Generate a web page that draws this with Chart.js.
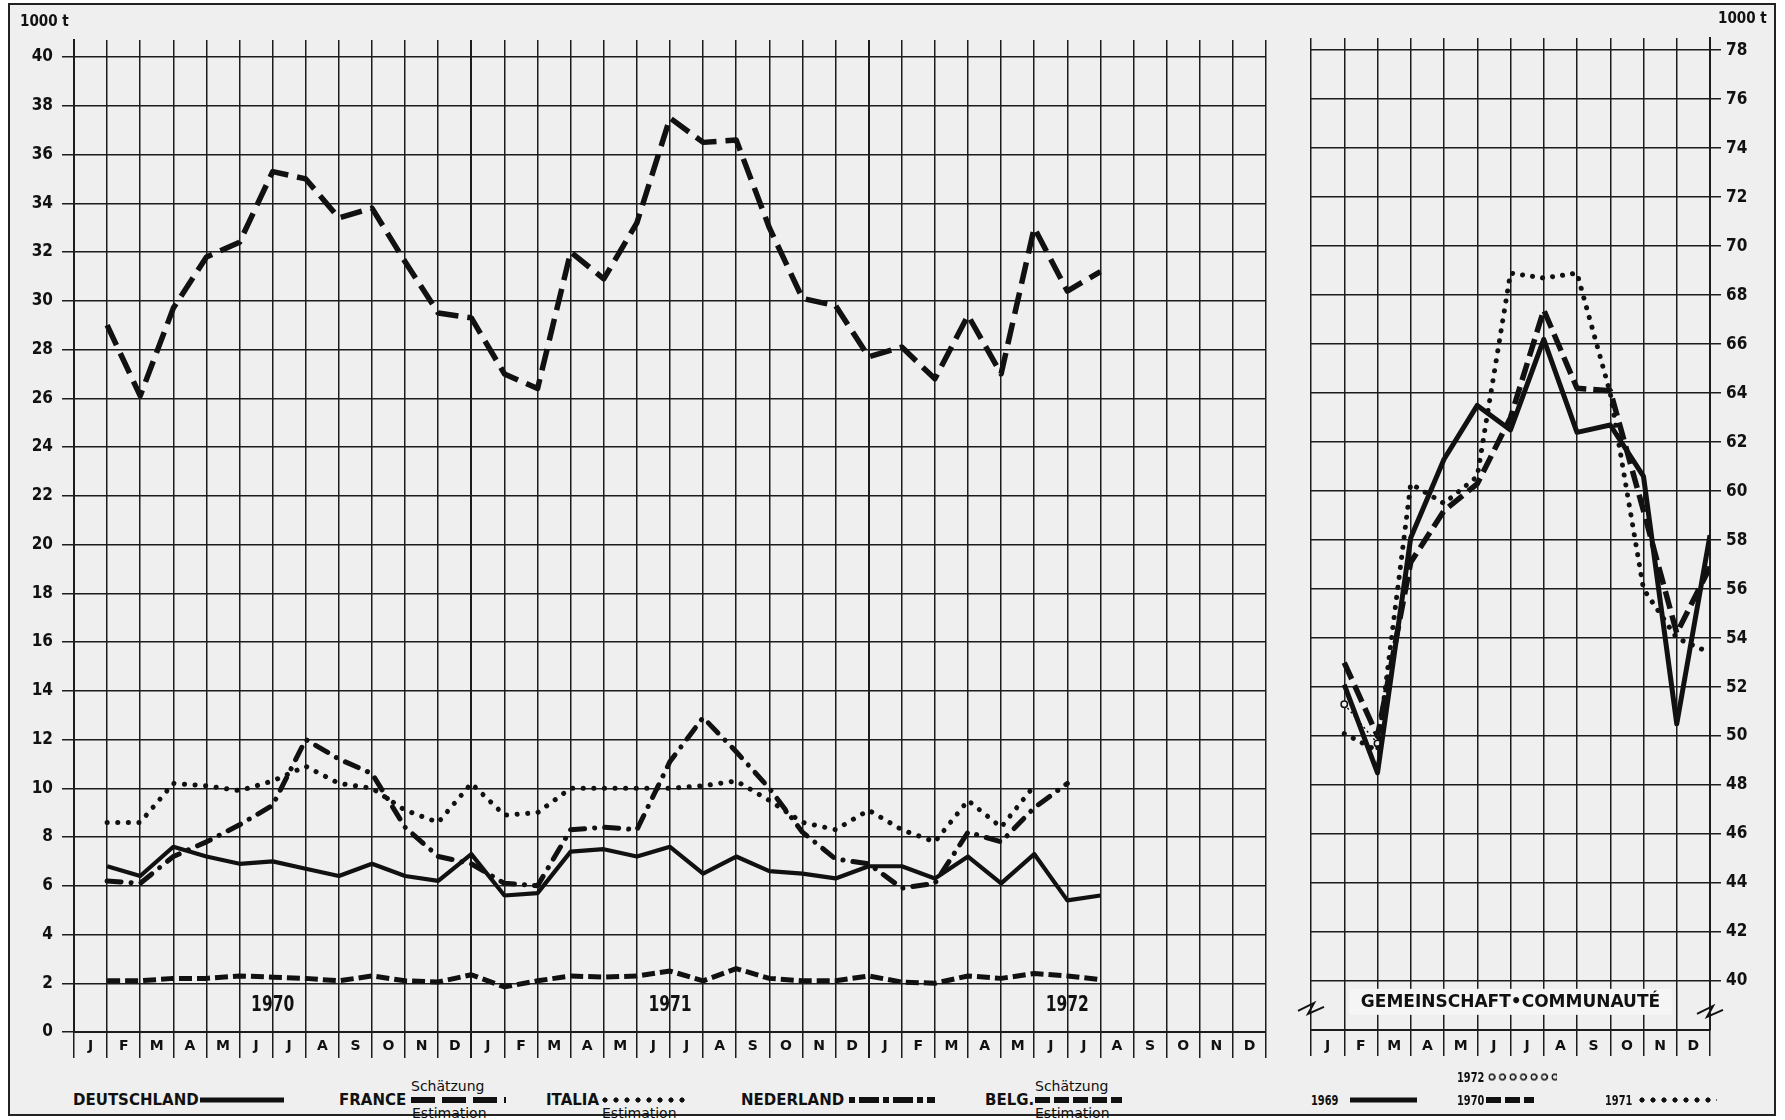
<!DOCTYPE html>
<html lang="de">
<head>
<meta charset="utf-8">
<title>Gemeinschaft · Communauté</title>
<script src="https://cdn.jsdelivr.net/npm/chart.js@4.4.1/dist/chart.umd.min.js"></script>
<style>
  html, body { margin: 0; padding: 0; background: #fff; }
  #page { position: relative; width: 1785px; height: 1120px; overflow: hidden; color: #111; }
  #frame { position: absolute; left: 8px; top: 3px; width: 1764px; height: 1109px;
           border: 2px solid #222; background: #efefef; }
  #left-chart { position: absolute; left: 0; top: 0; }
  #right-chart { position: absolute; left: 1270px; top: 0; }
  .unit { position: absolute; font: bold 15px "DejaVu Sans Condensed", sans-serif;
          line-height: 1; transform: translateY(-50%); white-space: nowrap; }
  .lg { position: absolute; font: bold 15px "DejaVu Sans", sans-serif; line-height: 1;
        white-space: nowrap; transform: translateY(-50%); }
  .lg.note { font: 14px "DejaVu Sans", sans-serif; }
  .lg.yr { font: bold 14px "DejaVu Sans Condensed", sans-serif;
           transform: translateY(-50%) scaleX(0.78); transform-origin: 0 50%; }
  .smp { position: absolute; height: 6px; transform: translateY(-50%); }
  .solid { background: #111; height: 5px; }
  .dash { background: repeating-linear-gradient(90deg, #111 0 24px, transparent 24px 31px); }
  .dash-short { background: repeating-linear-gradient(90deg, #111 0 15px, transparent 15px 19px); }
  .dots { height: 8px; background: radial-gradient(circle at 5px 50%, #111 2.3px, transparent 2.9px) 0 0 / 11px 100% repeat-x; }
  .dashdot { background: repeating-linear-gradient(90deg, #111 0 6px, transparent 6px 10px, #111 10px 30px, transparent 30px 34px); }
  .rings { height: 9px; background: radial-gradient(circle at 5px 50%, transparent 1.8px, #111 2.3px, #111 3.3px, transparent 3.8px) 0 0 / 10.5px 100% repeat-x; }
</style>
</head>
<body>
<div id="page">
  <div id="frame"></div>
  <canvas id="left-chart" width="1290" height="1075"></canvas>
  <canvas id="right-chart" width="515" height="1075"></canvas>

  <div class="unit" style="left:20px; top:21px;">1000 t</div>
  <div class="unit" style="left:1718px; top:18px;">1000 t</div>

  <!-- Legende links -->
  <div class="lg" style="left:73px; top:1100px;">DEUTSCHLAND</div>
  <div class="smp solid" style="left:200px; top:1100px; width:84px;"></div>

  <div class="lg" style="left:339px; top:1100px;">FRANCE</div>
  <div class="lg note" style="left:411px; top:1086px;">Schätzung</div>
  <div class="smp dash" style="left:411px; top:1100px; width:95px;"></div>
  <div class="lg note" style="left:412px; top:1113px;">Estimation</div>

  <div class="lg" style="left:546px; top:1100px;">ITALIA</div>
  <div class="smp dots" style="left:600px; top:1100px; width:88px;"></div>
  <div class="lg note" style="left:602px; top:1113px;">Estimation</div>

  <div class="lg" style="left:741px; top:1100px;">NEDERLAND</div>
  <div class="smp dashdot" style="left:849px; top:1100px; width:86px;"></div>

  <div class="lg" style="left:985px; top:1100px;">BELG.</div>
  <div class="lg note" style="left:1035px; top:1086px;">Schätzung</div>
  <div class="smp dash-short" style="left:1035px; top:1100px; width:87px;"></div>
  <div class="lg note" style="left:1035px; top:1113px;">Estimation</div>

  <!-- Legende rechts -->
  <div class="lg yr" style="left:1311px; top:1100px;">1969</div>
  <div class="smp solid" style="left:1350px; top:1100px; width:67px;"></div>
  <div class="lg yr" style="left:1457px; top:1077px;">1972</div>
  <div class="smp rings" style="left:1487px; top:1077px; width:70px;"></div>
  <div class="lg yr" style="left:1457px; top:1100px;">1970</div>
  <div class="smp dash-short" style="left:1486px; top:1100px; width:48px;"></div>
  <div class="lg yr" style="left:1605px; top:1100px;">1971</div>
  <div class="smp dots" style="left:1637px; top:1100px; width:80px;"></div>
</div>

<script>
// Monatsbuchstaben, Jahre, Achsenteilung
const monthLetters = ['J', 'F', 'M', 'A', 'M', 'J', 'J', 'A', 'S', 'O', 'N', 'D'];
const yearLabels = ['1970', '1971', '1972'];
const leftYTicks = [0, 2, 4, 6, 8, 10, 12, 14, 16, 18, 20, 22, 24, 26, 28, 30, 32, 34, 36, 38, 40];
const rightYTicks = [40, 42, 44, 46, 48, 50, 52, 54, 56, 58, 60, 62, 64, 66, 68, 70, 72, 74, 76, 78];
const communityLabel = 'GEMEINSCHAFT•COMMUNAUTÉ';

// Monatswerte ab Januar 1970 (1000 t)
const deutschland = [6.8, 6.4, 7.6, 7.2, 6.9, 7.0, 6.7, 6.4, 6.9, 6.4, 6.2, 7.3,
                     5.6, 5.7, 7.4, 7.5, 7.2, 7.6, 6.5, 7.2, 6.6, 6.5, 6.3, 6.8,
                     6.8, 6.3, 7.2, 6.1, 7.3, 5.4, 5.6];
const france = [29.0, 26.1, 29.7, 31.8, 32.4, 35.3, 35.0, 33.4, 33.8, 31.6, 29.5, 29.3,
                27.0, 26.4, 32.0, 30.9, 33.2, 37.5, 36.5, 36.6, 33.0, 30.1, 29.8, 27.7,
                28.1, 26.8, 29.4, 27.0, 33.0, 30.4, 31.2];
const italia = [8.6, 8.6, 10.2, 10.1, 9.9, 10.3, 10.9, 10.2, 10.0, 9.1, 8.6, 10.2,
                8.9, 9.0, 10.0, 10.0, 10.0, 10.0, 10.1, 10.3, 9.5, 8.6, 8.3, 9.1,
                8.3, 7.8, 9.5, 8.4, 10.1];
const nederland = [6.2, 6.1, 7.2, 7.8, 8.5, 9.3, 12.0, 11.2, 10.6, 8.4, 7.2, 6.9,
                   6.1, 6.0, 8.3, 8.4, 8.3, 11.1, 12.9, 11.5, 10.0, 8.2, 7.1, 6.9,
                   5.9, 6.1, 8.2, 7.8, 9.2, 10.2];
const belgique = [2.1, 2.1, 2.2, 2.2, 2.3, 2.25, 2.2, 2.1, 2.3, 2.1, 2.05, 2.35,
                  1.85, 2.1, 2.3, 2.25, 2.3, 2.5, 2.1, 2.6, 2.2, 2.1, 2.1, 2.3,
                  2.05, 2.0, 2.3, 2.2, 2.4, 2.3, 2.15];

// Gemeinschaft, je Jahr Jan-Dez
const eg1969 = [52.1, 48.5, 58.1, 61.3, 63.5, 62.5, 66.2, 62.4, 62.7, 60.6, 50.5, 58.2];
const eg1970 = [53.0, 50.0, 57.1, 59.2, 60.3, 63.0, 67.4, 64.2, 64.1, 59.2, 54.2, 56.9];
const eg1971 = [50.1, 49.4, 60.3, 59.5, 60.6, 68.9, 68.7, 68.9, 64.0, 56.0, 54.0, 53.4];
const eg1972 = [51.3, 49.7];

const ink = '#111';
const gridInk = '#1c1c1c';
const narrow = '"DejaVu Sans Condensed", sans-serif';

// Werte gelten zum Monatsende -> Punkt auf der rechten Zellgrenze
function toPoints(values) {
  return values.map((v, i) => ({ x: i + 1, y: v }));
}

function lineSet(label, values, width, dash, cap) {
  return {
    label: label,
    data: toPoints(values),
    xAxisID: 'xd',
    borderColor: ink,
    borderWidth: width,
    borderDash: dash,
    borderCapStyle: cap || 'butt',
    borderJoinStyle: 'round',
    pointRadius: 0,
    tension: 0,
    fill: false
  };
}

function drawBreak(ctx, x, y) {
  ctx.beginPath();
  ctx.moveTo(x - 13, y + 3);
  ctx.lineTo(x + 3, y - 5);
  ctx.lineTo(x - 3, y + 6);
  ctx.lineTo(x + 13, y - 1);
  ctx.stroke();
}

// Jahreszahlen im linken Diagramm
const yearPlugin = {
  id: 'yearLabels',
  afterDraw(chart) {
    const { ctx, scales } = chart;
    ctx.save();
    ctx.fillStyle = ink;
    ctx.font = 'bold 21px ' + narrow;
    ctx.textAlign = 'center';
    ctx.textBaseline = 'middle';
    yearLabels.forEach((t, i) => {
      ctx.save();
      ctx.translate(scales.xd.getPixelForValue(i * 12 + 6), scales.y.getPixelForValue(1.1));
      ctx.scale(0.82, 1);
      ctx.fillText(t, 0, 0);
      ctx.restore();
    });
    ctx.restore();
  }
};

// Beschriftung und Bruchzeichen im rechten Diagramm
const communityPlugin = {
  id: 'communityLabel',
  afterDraw(chart) {
    const { ctx, scales, chartArea } = chart;
    const cx = scales.xd.getPixelForValue(6);
    const cy = scales.y.getPixelForValue(39.15);
    ctx.save();
    ctx.font = 'bold 17px "DejaVu Sans", sans-serif';
    const w = ctx.measureText(communityLabel).width;
    ctx.fillStyle = '#f5f5f5';
    ctx.fillRect(cx - w / 2 - 12, cy - 13, w + 24, 26);
    ctx.fillStyle = ink;
    ctx.textAlign = 'center';
    ctx.textBaseline = 'middle';
    ctx.fillText(communityLabel, cx, cy + 1);
    ctx.strokeStyle = ink;
    ctx.lineWidth = 2;
    const by = scales.y.getPixelForValue(38.9);
    drawBreak(ctx, chartArea.left, by);
    drawBreak(ctx, chartArea.right, by + 3);
    ctx.restore();
  }
};

function gridWidth(c) {
  return (c.index === 12 || c.index === 24) ? 2 : 1.5;
}

new Chart(document.getElementById('left-chart'), {
  type: 'line',
  data: {
    datasets: [
      lineSet('DEUTSCHLAND', deutschland, 4.2, []),
      lineSet('FRANCE', france, 5.5, [22, 9]),
      lineSet('ITALIA', italia, 5, [0.1, 10.5], 'round'),
      lineSet('NEDERLAND', nederland, 5, [14, 10, 0.1, 10], 'round'),
      lineSet('BELG.', belgique, 5, [13, 5])
    ]
  },
  options: {
    responsive: false,
    animation: false,
    layout: { padding: { top: 40, right: 24, left: 0, bottom: 0 } },
    plugins: { legend: { display: false }, tooltip: { enabled: false } },
    scales: {
      x: {
        type: 'category',
        labels: [...monthLetters, ...monthLetters, ...monthLetters],
        offset: true,
        grid: { offset: true, color: gridInk, lineWidth: gridWidth, tickLength: 26 },
        border: { display: true, color: gridInk, width: 2 },
        ticks: { color: ink, padding: -20, autoSkip: false, maxRotation: 0,
                 font: { family: '"DejaVu Sans", sans-serif', size: 14, weight: 'bold' } },
        afterFit: s => { s.height = 43; }
      },
      xd: { type: 'linear', display: false, min: 0, max: 36 },
      y: {
        type: 'linear',
        position: 'left',
        min: 0,
        max: 40.7,
        afterBuildTicks: s => { s.ticks = leftYTicks.map(v => ({ value: v })); },
        grid: { color: gridInk, lineWidth: 1.5, tickLength: 12 },
        border: { color: gridInk, width: 2 },
        ticks: { color: ink, padding: 9, font: { family: narrow, size: 17, weight: 'bold' } },
        afterFit: s => { s.width = 74; }
      }
    }
  },
  plugins: [yearPlugin]
});

const ring1972 = Object.assign(lineSet('1972', eg1972, 1.5, [2, 3]), {
  pointRadius: 3.2, pointStyle: 'circle', pointBorderColor: ink,
  pointBackgroundColor: '#efefef', pointBorderWidth: 1.5
});

new Chart(document.getElementById('right-chart'), {
  type: 'line',
  data: {
    datasets: [
      lineSet('1969', eg1969, 5, []),
      lineSet('1970', eg1970, 5.5, [18, 7]),
      lineSet('1971', eg1971, 5, [0.1, 10], 'round'),
      ring1972
    ]
  },
  options: {
    responsive: false,
    animation: false,
    layout: { padding: { top: 38, right: 0, left: 41, bottom: 0 } },
    plugins: { legend: { display: false }, tooltip: { enabled: false } },
    scales: {
      x: {
        type: 'category',
        labels: monthLetters,
        offset: true,
        grid: { offset: true, color: gridInk, lineWidth: 1.5, tickLength: 26 },
        border: { display: true, color: gridInk, width: 2 },
        ticks: { color: ink, padding: -18, autoSkip: false, maxRotation: 0,
                 font: { family: '"DejaVu Sans", sans-serif', size: 14, weight: 'bold' } },
        afterFit: s => { s.height = 45; }
      },
      xd: { type: 'linear', display: false, min: 0, max: 12 },
      y: {
        type: 'linear',
        position: 'right',
        min: 38,
        max: 78.5,
        afterBuildTicks: s => { s.ticks = rightYTicks.map(v => ({ value: v })); },
        grid: { color: gridInk, lineWidth: 1.5, tickLength: 11 },
        border: { color: gridInk, width: 2 },
        ticks: { color: ink, padding: 5, font: { family: narrow, size: 17, weight: 'bold' } },
        afterFit: s => { s.width = 75; }
      }
    }
  },
  plugins: [communityPlugin]
});
</script>
</body>
</html>
